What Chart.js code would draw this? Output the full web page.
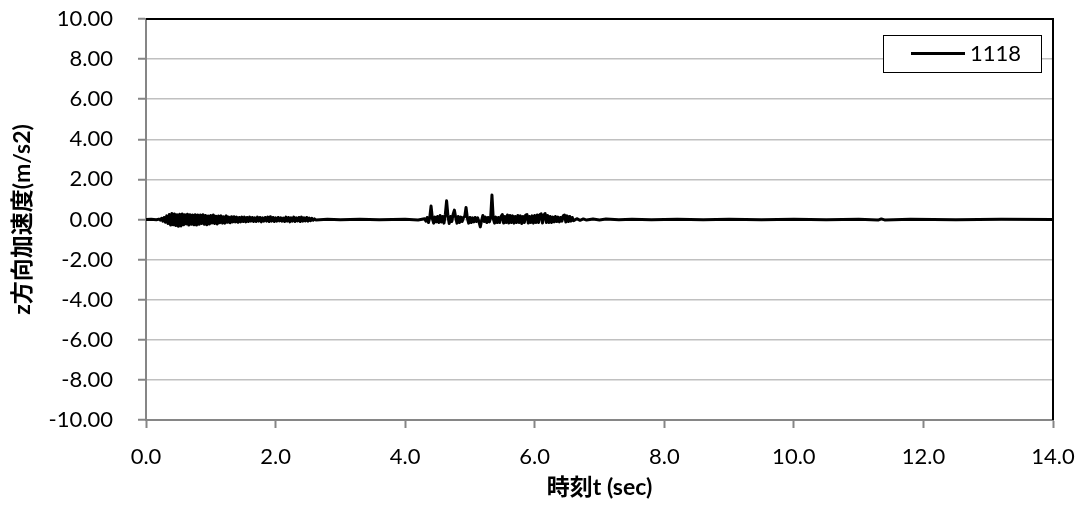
<!DOCTYPE html>
<html>
<head>
<meta charset="utf-8">
<script src="https://cdn.jsdelivr.net/npm/chart.js@4.4.1/dist/chart.umd.min.js"></script>
<style>
  html, body { margin: 0; padding: 0; background: #ffffff; }
  #wrap { width: 1081px; height: 506px; }
</style>
</head>
<body>
<div id="wrap"><canvas id="c" width="1081" height="506"></canvas></div>
<script>
// ---- data (time in sec, z acceleration in m/s2) ----
const seriesLabel = "1118";
const xTitle = "時刻t (sec)";
const yTitle = "z方向加速度(m/s2)";
const xTickValues = [0, 2, 4, 6, 8, 10, 12, 14];
const yTickValues = [-10, -8, -6, -4, -2, 0, 2, 4, 6, 8, 10];

const quietStart = [[0.00, 0.00], [0.08, 0.01], [0.16, -0.01], [0.20, 0.02], [0.22, -0.03]];

const burst1 = [
  [0.24, 0.06], [0.26, -0.08], [0.28, 0.10], [0.30, -0.14], [0.32, 0.18], [0.34, -0.20],
  [0.36, 0.25], [0.38, -0.28], [0.40, 0.30], [0.42, -0.26], [0.44, 0.28], [0.46, -0.30],
  [0.48, 0.24], [0.50, -0.34], [0.52, 0.26], [0.54, -0.32], [0.56, 0.28], [0.58, -0.26],
  [0.60, 0.24], [0.62, -0.22], [0.64, 0.26], [0.66, -0.28], [0.68, 0.24], [0.70, -0.24],
  [0.72, 0.22], [0.74, -0.26], [0.76, 0.24], [0.78, -0.28], [0.80, 0.22], [0.82, -0.24],
  [0.84, 0.22], [0.86, -0.20], [0.88, 0.24], [0.90, -0.24], [0.92, 0.20], [0.94, -0.26],
  [0.96, 0.18], [0.98, -0.22], [1.00, 0.20], [1.02, -0.18], [1.04, 0.22], [1.06, -0.20],
  [1.08, 0.16], [1.10, -0.22], [1.12, 0.18], [1.14, -0.16], [1.16, 0.18], [1.18, -0.18],
  [1.20, 0.14], [1.22, -0.18], [1.24, 0.18], [1.26, -0.14], [1.28, 0.12], [1.30, -0.16],
  [1.32, 0.14], [1.34, -0.12], [1.36, 0.14], [1.38, -0.12], [1.40, 0.12], [1.42, -0.14],
  [1.44, 0.10], [1.46, -0.12], [1.48, 0.12], [1.50, -0.10], [1.52, 0.12], [1.54, -0.12],
  [1.56, 0.10], [1.58, -0.10], [1.60, 0.12], [1.62, -0.08], [1.64, 0.10], [1.66, -0.10],
  [1.68, 0.08], [1.70, -0.10], [1.72, 0.12], [1.74, -0.08], [1.76, 0.10], [1.78, -0.12],
  [1.80, 0.08], [1.82, -0.08], [1.84, 0.10], [1.86, -0.08], [1.88, 0.12], [1.90, -0.10],
  [1.92, 0.14], [1.94, -0.08], [1.96, 0.10], [1.98, -0.10], [2.00, 0.08], [2.02, -0.08],
  [2.04, 0.10], [2.06, -0.07], [2.08, 0.08], [2.10, -0.08], [2.12, 0.07], [2.14, -0.10],
  [2.16, 0.12], [2.18, -0.08], [2.20, 0.10], [2.22, -0.12], [2.24, 0.08], [2.26, -0.08],
  [2.28, 0.12], [2.30, -0.10], [2.32, 0.08], [2.34, -0.07], [2.36, 0.10], [2.38, -0.10],
  [2.40, 0.12], [2.42, -0.08], [2.44, 0.08], [2.46, -0.07], [2.48, 0.10], [2.50, -0.08],
  [2.52, 0.07], [2.54, -0.06], [2.56, 0.06], [2.58, -0.04], [2.60, 0.03], [2.62, -0.02]
];

const quietMid = [[2.80, 0.01], [3.00, -0.01], [3.30, 0.01], [3.60, -0.01], [4.00, 0.01], [4.20, -0.02]];

const burst2 = [
  [4.30, 0.04], [4.32, -0.08], [4.34, 0.10], [4.36, -0.15], [4.38, 0.10], [4.40, 0.67],
  [4.42, 0.05], [4.44, -0.18], [4.46, 0.12], [4.48, -0.12], [4.50, 0.15], [4.52, -0.15],
  [4.54, 0.20], [4.56, -0.12], [4.58, 0.15], [4.60, -0.18], [4.62, 0.25], [4.64, 0.93],
  [4.66, 0.20], [4.68, -0.20], [4.70, 0.15], [4.72, -0.10], [4.74, 0.25], [4.76, 0.47],
  [4.78, 0.10], [4.80, -0.18], [4.82, 0.15], [4.84, -0.15], [4.86, 0.12], [4.88, -0.10],
  [4.90, 0.10], [4.92, 0.15], [4.94, 0.60], [4.96, 0.08], [4.98, -0.18], [5.00, 0.10],
  [5.02, -0.15], [5.04, 0.08], [5.06, -0.12], [5.08, 0.10], [5.10, -0.10], [5.12, 0.08],
  [5.14, -0.12], [5.16, -0.37], [5.18, -0.05], [5.20, 0.20], [5.22, -0.10], [5.24, 0.12],
  [5.26, -0.15], [5.28, 0.10], [5.30, -0.12], [5.32, 0.10], [5.34, 1.22], [5.36, 0.05],
  [5.38, -0.18], [5.40, 0.12], [5.42, -0.15], [5.44, 0.10], [5.46, -0.15], [5.48, 0.15],
  [5.50, 0.25], [5.52, -0.18], [5.54, 0.15], [5.56, -0.15], [5.58, 0.22], [5.60, -0.18],
  [5.62, 0.20], [5.64, -0.15], [5.66, 0.18], [5.68, -0.18], [5.70, 0.15], [5.72, -0.15],
  [5.74, 0.20], [5.76, -0.15], [5.78, 0.18], [5.80, -0.20], [5.82, 0.15], [5.84, -0.15],
  [5.86, 0.22], [5.88, 0.25], [5.90, -0.18], [5.92, 0.15], [5.94, -0.15], [5.96, 0.18],
  [5.98, -0.18], [6.00, 0.20], [6.02, -0.15], [6.04, 0.22], [6.06, -0.15], [6.08, 0.25],
  [6.10, 0.28], [6.12, -0.18], [6.14, 0.22], [6.16, 0.30], [6.18, -0.15], [6.20, 0.20],
  [6.22, -0.15], [6.24, 0.15], [6.26, -0.15], [6.28, 0.12], [6.30, -0.12], [6.32, 0.15],
  [6.34, -0.10], [6.36, 0.12], [6.38, -0.12], [6.40, 0.10], [6.42, -0.08], [6.44, 0.18],
  [6.46, 0.22], [6.48, -0.12], [6.50, 0.18], [6.52, -0.10], [6.54, 0.15], [6.56, -0.08],
  [6.58, 0.10], [6.60, -0.06]
];

const quietEnd = [
  [6.65, 0.04], [6.70, -0.04], [6.75, 0.03], [6.80, -0.03], [6.90, 0.02], [7.00, -0.02],
  [7.10, 0.02], [7.30, -0.01], [7.50, 0.01], [7.80, -0.01], [8.20, 0.01], [8.60, -0.01],
  [9.00, 0.01], [9.50, -0.01], [10.00, 0.01], [10.50, -0.01], [11.00, 0.01], [11.30, -0.03],
  [11.35, 0.03], [11.40, -0.02], [11.80, 0.01], [12.50, -0.01], [13.20, 0.01], [14.00, 0.00]
];

// ---- build ----
const FONT = "Lato, 'Noto Sans CJK JP', 'DejaVu Sans', sans-serif";
const points = [].concat(quietStart, burst1, quietMid, burst2, quietEnd).map(p => ({x: p[0], y: p[1]}));
const TARGET = { left: 146, top: 19, right: 1053, bottom: 420 };

const frameAndLegend = {
  id: 'frameAndLegend',
  afterDatasetsDraw(chart) {
    const {ctx, chartArea: a} = chart;
    ctx.save();
    ctx.strokeStyle = '#000000';
    ctx.lineWidth = 2;
    ctx.beginPath();
    ctx.moveTo(a.left, a.top);
    ctx.lineTo(a.right, a.top);
    ctx.lineTo(a.right, a.bottom);
    ctx.stroke();
    ctx.restore();
  },
  afterDraw(chart) {
    const {ctx, chartArea: a} = chart;
    const ds = chart.data.datasets[0];
    ctx.save();
    const bx = a.right - 169.5, by = a.top + 16.5, bw = 158, bh = 37;
    ctx.fillStyle = '#ffffff';
    ctx.fillRect(bx, by, bw, bh);
    ctx.strokeStyle = '#000000';
    ctx.lineWidth = 1;
    ctx.strokeRect(bx, by, bw, bh);
    ctx.strokeStyle = ds.borderColor;
    ctx.lineWidth = 3;
    ctx.beginPath();
    ctx.moveTo(bx + 27.5, by + 18);
    ctx.lineTo(bx + 81.5, by + 18);
    ctx.stroke();
    ctx.fillStyle = '#000000';
    ctx.font = "22px " + FONT;
    ctx.textBaseline = 'middle';
    ctx.textAlign = 'left';
    ctx.fillText(ds.label, bx + 86.5, by + 18.5);
    ctx.restore();
  }
};

const pad = { left: 0, right: 28, top: 19, bottom: 0 };

const chart = new Chart(document.getElementById('c'), {
  type: 'line',
  data: {
    datasets: [{
      label: seriesLabel,
      data: points,
      borderColor: '#000000',
      borderWidth: 3,
      borderJoinStyle: 'round',
      borderCapStyle: 'round',
      pointRadius: 0,
      tension: 0,
      fill: false
    }]
  },
  options: {
    responsive: false,
    animation: false,
    devicePixelRatio: 1,
    layout: { padding: pad },
    plugins: { legend: { display: false }, tooltip: { enabled: false } },
    scales: {
      x: {
        type: 'linear',
        min: 0, max: 14,
        afterBuildTicks(scale) { scale.ticks = xTickValues.map(v => ({value: v})); },
        afterFit(scale) { scale.height = 86; scale.paddingLeft = 0; scale.paddingRight = 0; },
        ticks: {
          color: '#000000',
          font: { family: FONT, size: 22 },
          padding: 16,
          maxRotation: 0,
          callback: v => Number(v).toFixed(1)
        },
        grid: { drawOnChartArea: false, tickLength: 8, tickColor: '#868686', tickWidth: 2 },
        border: { color: '#868686', width: 2 },
        title: {
          display: true, text: xTitle, color: '#000000',
          font: { family: FONT, size: 23, weight: 'bold' },
          padding: { top: 0, bottom: 5 }
        }
      },
      y: {
        type: 'linear',
        min: -10, max: 10,
        afterBuildTicks(scale) { scale.ticks = yTickValues.map(v => ({value: v})); },
        afterFit(scale) { scale.width = 146; scale.paddingTop = 0; scale.paddingBottom = 0; },
        ticks: {
          color: '#000000',
          font: { family: FONT, size: 22 },
          padding: 25,
          callback: v => Number(v).toFixed(2)
        },
        grid: { color: '#c0c0c0', lineWidth: 1.5, tickLength: 8, tickColor: '#868686', tickWidth: 2 },
        border: { color: '#868686', width: 2 },
        title: {
          display: true, text: yTitle, color: '#000000',
          font: { family: FONT, size: 23, weight: 'bold' },
          padding: { top: 9, bottom: 0 }
        }
      }
    }
  },
  plugins: [frameAndLegend]
});

// nudge layout padding so the plot area lands where the reference has it
for (let i = 0; i < 4; i++) {
  const a = chart.chartArea;
  const dTop = a.top - TARGET.top, dLeft = a.left - TARGET.left;
  const dRight = TARGET.right - a.right, dBottom = TARGET.bottom - a.bottom;
  if (Math.abs(dTop) < 0.5 && Math.abs(dLeft) < 0.5 && Math.abs(dRight) < 0.5 && Math.abs(dBottom) < 0.5) break;
  pad.top = Math.max(0, pad.top - dTop);
  pad.left = Math.max(0, pad.left - dLeft);
  pad.right = Math.max(0, pad.right - dRight);
  pad.bottom = Math.max(0, pad.bottom - dBottom);
  chart.options.layout.padding = { ...pad };
  chart.update('none');
}
</script>
</body>
</html>
